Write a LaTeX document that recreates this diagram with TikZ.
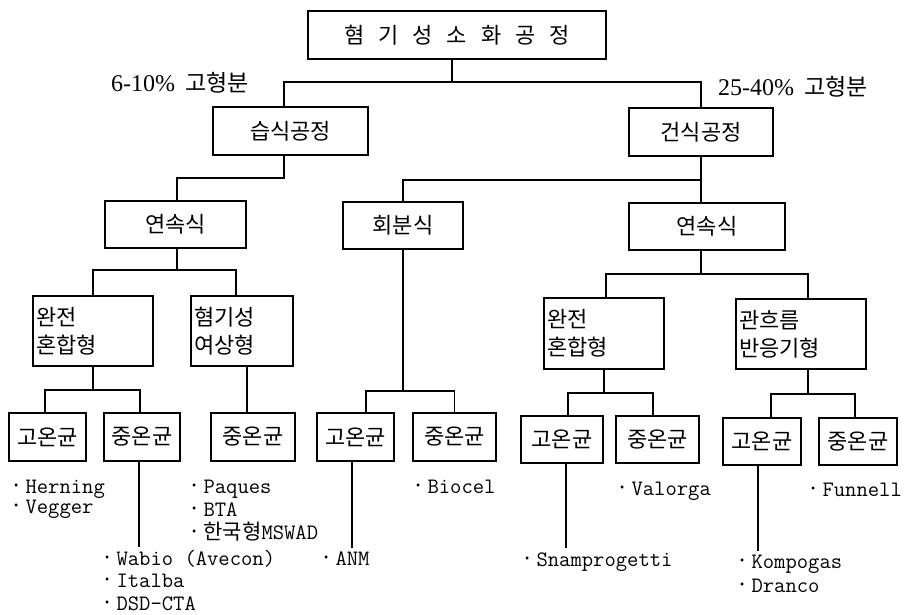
\documentclass[tikz,border=0pt]{standalone}
\usepackage{fontspec}
\setmainfont{Liberation Serif}
\newfontfamily\kr{Noto Sans CJK KR}
\newcommand{\bul}{{\kr\fontsize{22}{22}\selectfont ·}}
\tikzset{
  box/.style={draw, line width=1.3pt, inner sep=0pt, font=\kr\fontsize{22}{28}\selectfont},
  twobox/.style={box, align=left, inner xsep=3pt, text width=#1},
  conn/.style={line width=1.1pt},
  item/.style={anchor=base west, inner sep=0pt, font=\ttfamily\fontsize{22}{26}\selectfont},
  pct/.style={anchor=base west, inner sep=0pt, font=\fontsize{24}{24}\selectfont}
}
\begin{document}
\begin{tikzpicture}[x=1pt,y=-1pt]
\useasboundingbox (0,0) rectangle (908,614);
% boxes
\node[box, minimum width=298pt, minimum height=48pt] (top) at (457,35)
  {혐\hspace{14pt}기\hspace{14pt}성\hspace{14pt}소\hspace{14pt}화\hspace{14pt}공\hspace{14pt}정};
\node[box, minimum width=155pt, minimum height=48pt] (wet) at (290.5,131) {습식공정};
\node[box, minimum width=144pt, minimum height=48pt] (dry) at (701,132) {건식공정};
\node[box, minimum width=141pt, minimum height=47pt] (lcont) at (175.5,224.5) {연속식};
\node[box, minimum width=120pt, minimum height=47pt] (batch) at (403,225.5) {회분식};
\node[box, minimum width=156pt, minimum height=47pt] (rcont) at (707,226.5) {연속식};
\node[twobox=114pt, minimum height=70pt] (lmix) at (93,331) {완전\\혼합형};
\node[twobox=96pt, minimum height=70pt] (filt) at (242,331) {혐기성\\여상형};
\node[twobox=114pt, minimum height=71pt] (rmix) at (604,333.5) {완전\\혼합형};
\node[twobox=124pt, minimum height=70pt] (plug) at (801,334) {관흐름\\반응기형};
\node[box, minimum width=77pt, minimum height=48pt] (b1) at (47.5,437) {고온균};
\node[box, minimum width=76pt, minimum height=48pt] (b2) at (142,437) {중온균};
\node[box, minimum width=84pt, minimum height=48pt] (b3) at (253,437) {중온균};
\node[box, minimum width=77pt, minimum height=48pt] (b4) at (355.5,437) {고온균};
\node[box, minimum width=83pt, minimum height=48pt] (b5) at (454.5,437) {중온균};
\node[box, minimum width=82pt, minimum height=47pt] (b6) at (562,439.5) {고온균};
\node[box, minimum width=83pt, minimum height=47pt] (b7) at (657.5,439.5) {중온균};
\node[box, minimum width=78pt, minimum height=47pt] (b8) at (762,441.5) {고온균};
\node[box, minimum width=78pt, minimum height=47pt] (b9) at (858,441.5) {중온균};
% side labels
\node[pct] (lp) at (111,91) {6-10\%\hspace{10pt}{\kr\fontsize{23}{23}\selectfont 고형분}};
\node[pct] (rp) at (718,95) {25-40\%\hspace{10pt}{\kr\fontsize{23}{23}\selectfont 고형분}};
% connectors
\coordinate (j0) at (452,82);
\draw[conn] ([xshift=-5pt]top.south) -- (j0);
\draw[conn] ([xshift=-6.5pt]wet.north) |- (j0) -| (dry.north);
\coordinate (j1) at (284,178);
\draw[conn] ([xshift=-6.5pt]wet.south) -- (j1) -| ([xshift=1.5pt]lcont.north);
\coordinate (j2) at (701,180);
\draw[conn] (dry.south) -- (j2);
\draw[conn] (batch.north) |- (j2) -| ([xshift=-6pt]rcont.north);
\coordinate (j3) at (177,270);
\draw[conn] ([xshift=1.5pt]lcont.south) -- (j3);
\draw[conn] (lmix.north) |- (j3) -| ([xshift=-6pt]filt.north);
\coordinate (j4) at (701,274);
\draw[conn] ([xshift=-6pt]rcont.south) -- (j4);
\draw[conn] ([xshift=2pt]rmix.north) |- (j4) -| ([xshift=7pt]plug.north);
\coordinate (j5) at (93,390);
\draw[conn] (lmix.south) -- (j5);
\draw[conn] ([xshift=-2.5pt]b1.north) |- (j5) -| ([xshift=-2pt]b2.north);
\draw[conn] ([xshift=5pt]filt.south) -- ([xshift=-6pt]b3.north);
\coordinate (j6) at (403,391);
\draw[conn] (batch.south) -- (j6);
\draw[conn] ([xshift=10.5pt]b4.north) |- (j6) -| (b5.north);
\coordinate (j7) at (604,393);
\draw[conn] (rmix.south) -- (j7);
\draw[conn] ([xshift=6pt]b6.north) |- (j7) -| ([xshift=-4.5pt]b7.north);
\coordinate (j8) at (808,394);
\draw[conn] ([xshift=7pt]plug.south) -- (j8);
\draw[conn] ([xshift=9pt]b8.north) |- (j8) -| ([xshift=-3pt]b9.north);
\coordinate (e1) at (139,547);
\draw[conn] ([xshift=-3pt]b2.south) -- (e1);
\coordinate (e2) at (352,548);
\draw[conn] ([xshift=-3.5pt]b4.south) -- (e2);
\coordinate (e3) at (566,548);
\draw[conn] ([xshift=4pt]b6.south) -- (e3);
\coordinate (e4) at (758,551);
\draw[conn] ([xshift=-4pt]b8.south) -- (e4);
% items
\node[item] (t1) at (10,493) {\bul\kern3pt Herning};
\node[item] (t2) at (10,513) {\bul\kern3pt Vegger};
\node[item] (t3) at (101,565) {\bul\kern3pt Wabio (Avecon)};
\node[item] (t4) at (101,587) {\bul\kern3pt Italba};
\node[item] (t5) at (101,610) {\bul\kern3pt DSD-CTA};
\node[item] (t6) at (188,493) {\bul\kern3pt Paques};
\node[item] (t7) at (188,516) {\bul\kern3pt BTA};
\node[item] (t8) at (188,539) {\bul\kern3pt {\kr\fontsize{21}{21}\selectfont 한국형}MSWAD};
\node[item] (t9) at (320,565) {\bul\kern3pt ANM};
\node[item] (t10) at (412,493) {\bul\kern3pt Biocel};
\node[item] (t11) at (616,495) {\bul\kern3pt Valorga};
\node[item] (t12) at (807,496) {\bul\kern3pt Funnell};
\node[item] (t13) at (521,566) {\bul\kern3pt Snamprogetti};
\node[item] (t14) at (736,568) {\bul\kern3pt Kompogas};
\node[item] (t15) at (736,592) {\bul\kern3pt Dranco};
\end{tikzpicture}
\end{document}
